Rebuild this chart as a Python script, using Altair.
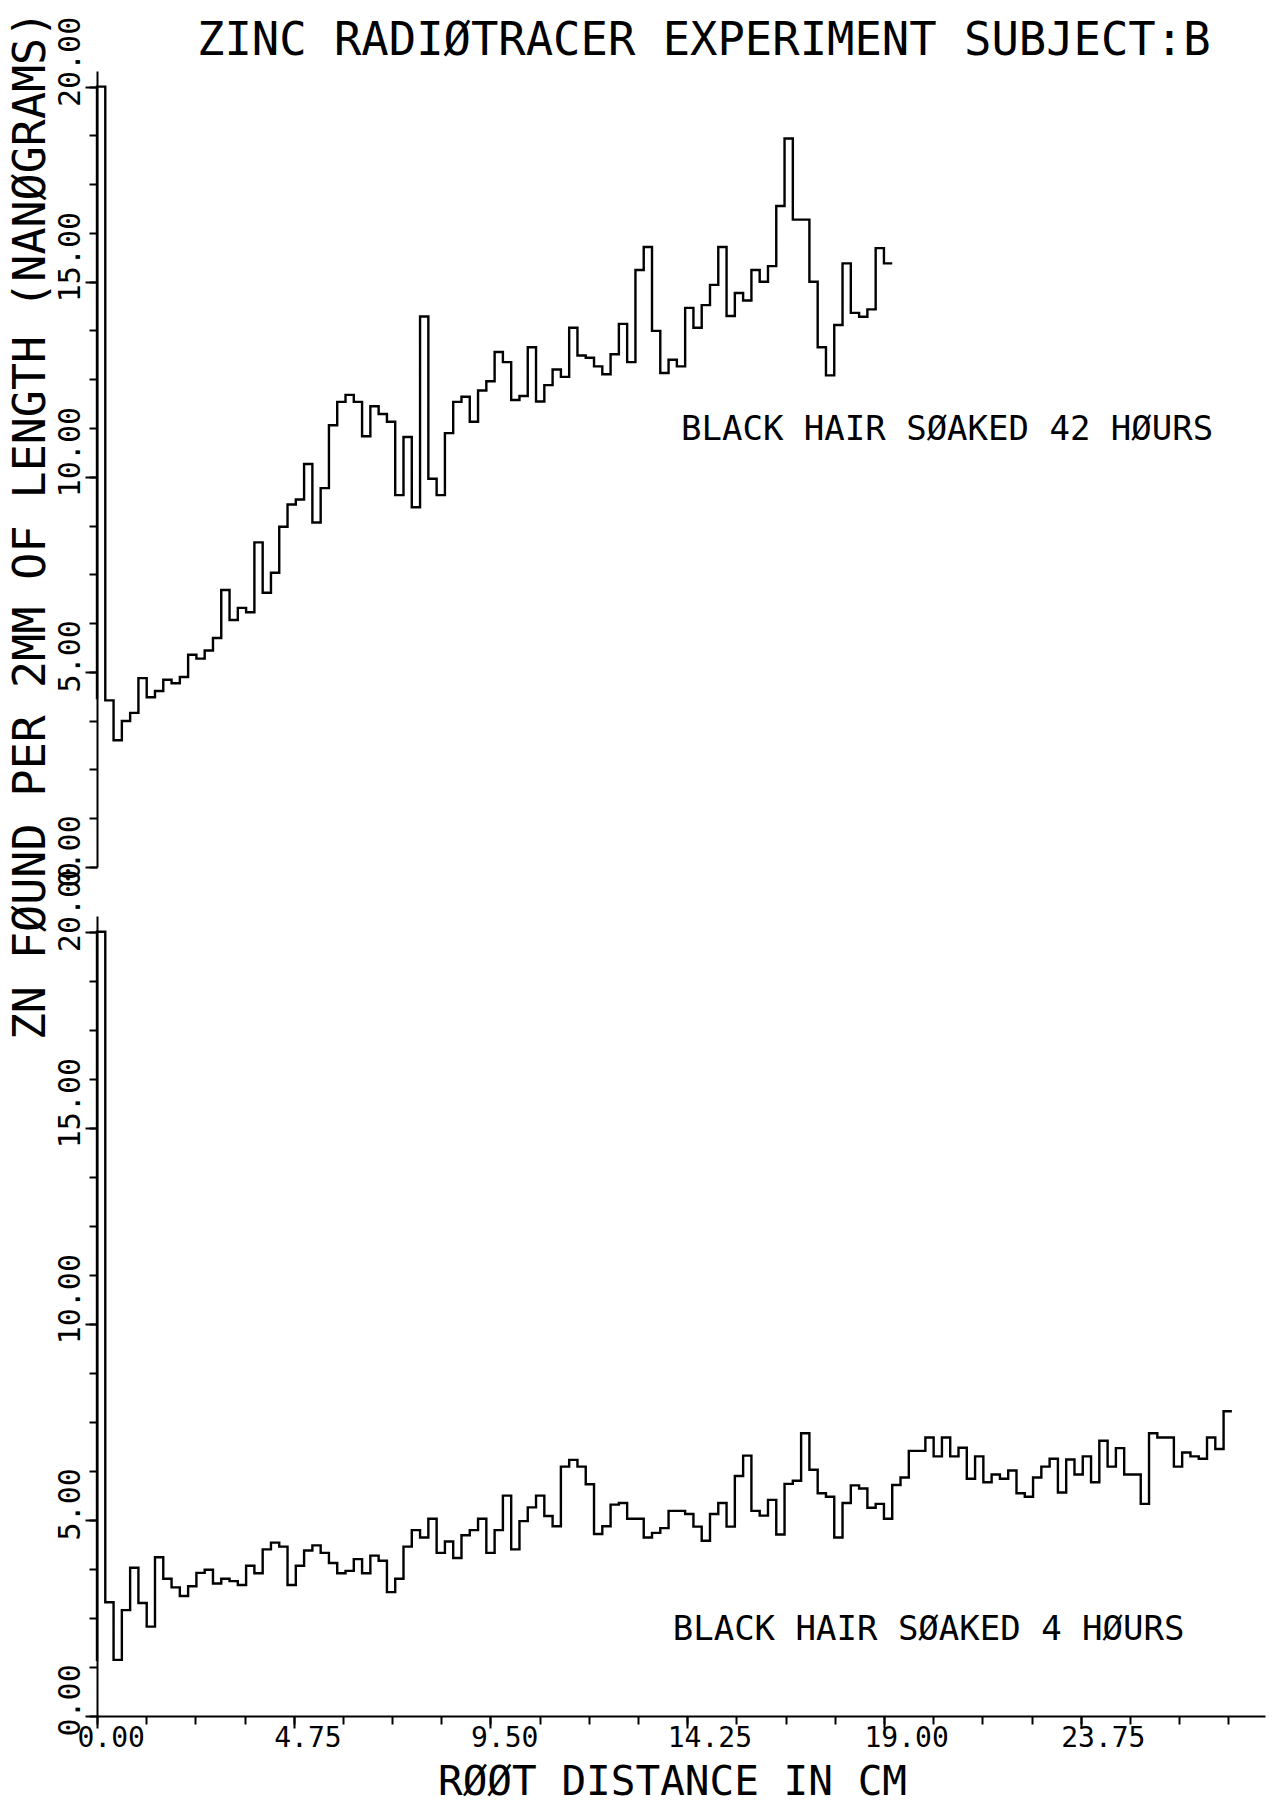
import altair as alt
import pandas as pd

# ---- measurements: zinc per 2 mm segment of hair, in nanograms ----
BIN_CM = 0.2  # each value covers 2 mm of hair

# pen start level at the root (x = 0) before the first segment
TOP_START = 4.3
BOTTOM_START = 1.4

# black hair soaked 42 hours
TOP_VALUES = [
    20.0, 4.27, 3.25, 3.74, 3.95, 4.84, 4.35, 4.51, 4.80, 4.71,
    4.87, 5.44, 5.34, 5.55, 5.87, 7.10, 6.33, 6.64, 6.53, 8.32,
    7.03, 7.54, 8.72, 9.29, 9.42, 10.33, 8.83, 9.71, 11.32, 11.92,
    12.10, 11.92, 11.04, 11.81, 11.61, 11.41, 9.53, 11.02, 9.22, 14.11,
    9.95, 9.53, 11.12, 11.92, 12.05, 11.41, 12.21, 12.45, 13.20, 12.94,
    11.97, 12.07, 13.32, 11.93, 12.35, 12.75, 12.56, 13.82, 13.11, 13.05,
    12.83, 12.63, 13.14, 13.92, 12.94, 15.30, 15.89, 13.74, 12.66, 13.00,
    12.83, 14.33, 13.82, 14.40, 14.92, 15.89, 14.12, 14.71, 14.52, 15.30,
    15.00, 15.40, 16.94, 18.67, 16.59, 16.59, 15.00, 13.32, 12.60, 13.89,
    15.47, 14.20, 14.10, 14.29, 15.86, 15.47,
]

# black hair soaked 4 hours
BOTTOM_VALUES = [
    20.0, 2.90, 1.43, 2.70, 3.78, 2.88, 2.28, 4.05, 3.50, 3.28,
    3.06, 3.31, 3.65, 3.73, 3.38, 3.50, 3.44, 3.34, 3.83, 3.64,
    4.25, 4.42, 4.32, 3.34, 3.83, 4.22, 4.35, 4.16, 3.90, 3.64,
    3.70, 4.00, 3.64, 4.09, 3.96, 3.16, 3.50, 4.32, 4.74, 4.55,
    5.03, 4.16, 4.45, 4.03, 4.61, 4.74, 5.03, 4.16, 4.74, 5.62,
    4.25, 4.97, 5.32, 5.62, 5.10, 4.84, 6.36, 6.53, 6.36, 5.91,
    4.64, 4.84, 5.39, 5.43, 5.03, 5.03, 4.55, 4.67, 4.79, 5.23,
    5.23, 5.15, 4.83, 4.47, 5.15, 5.43, 4.83, 6.12, 6.64, 5.23,
    5.11, 5.51, 4.63, 5.92, 6.00, 7.21, 6.28, 5.68, 5.59, 4.55,
    5.43, 5.88, 5.80, 5.31, 5.41, 5.03, 5.89, 6.08, 6.76, 6.76,
    7.10, 6.62, 7.10, 6.62, 6.84, 6.05, 6.62, 5.96, 6.16, 6.05,
    6.26, 5.68, 5.59, 6.08, 6.36, 6.56, 5.70, 6.54, 6.16, 6.62,
    5.96, 7.02, 6.36, 6.83, 6.16, 6.16, 5.41, 7.21, 7.10, 7.10,
    6.36, 6.72, 6.62, 6.56, 7.10, 6.81, 7.77,
]

# ---- axis ticks ----
X_MAJOR = [0.0, 4.75, 9.5, 14.25, 19.0, 23.75]
X_MINOR = [0.0, 1.1875, 2.375, 3.5625, 4.75, 5.9375, 7.125, 8.3125,
           9.5, 10.6875, 11.875, 13.0625, 14.25, 15.4375, 16.625, 17.8125,
           19.0, 20.1875, 21.375, 22.5625, 23.75, 24.9375, 26.125, 27.3125]
Y_MAJOR = [0.0, 5.0, 10.0, 15.0, 20.0]
Y_MINOR = [0.0, 1.25, 2.5, 3.75, 5.0, 6.25, 7.5, 8.75, 10.0, 11.25,
           12.5, 13.75, 15.0, 16.25, 17.5, 18.75, 20.0]

# ---- texts ----
TITLE = "ZINC RADIØTRACER EXPERIMENT SUBJECT:B"
Y_TITLE = "ZN FØUND PER 2MM OF LENGTH (NANØGRAMS)"
X_TITLE = "RØØT DISTANCE IN CM"
TOP_NOTE = "BLACK HAIR SØAKED 42 HØURS"
BOTTOM_NOTE = "BLACK HAIR SØAKED 4 HØURS"
TOP_NOTE_POS = (14.1, 10.95)
BOTTOM_NOTE_POS = (13.9, 1.95)

FONT = "DejaVu Sans Mono"
X_MAX = 28.2
Y_MAX = 20.4
PLOT_W = 1168
TOP_H = 796
BOTTOM_H = 800


def step_frame(start, values):
    rows = [{"i": 0, "x": 0.0, "v": start}]
    for k, v in enumerate(values):
        rows.append({"i": k + 1, "x": round(k * BIN_CM, 4), "v": v})
    rows.append({"i": len(values) + 1, "x": round(len(values) * BIN_CM, 4), "v": values[-1]})
    return pd.DataFrame(rows)


x_scale = alt.Scale(domain=[0, X_MAX], nice=False, zero=False)
y_scale = alt.Scale(domain=[0, Y_MAX], nice=False, zero=False)

fmt = "format(datum.value, '.2f')"

y_minor_axis = alt.Axis(
    orient="left", values=Y_MINOR, labels=False, title=None, grid=False,
    tickSize=8, tickWidth=2, tickColor="black",
    domain=True, domainColor="black", domainWidth=2,
)


def y_major_axis(with_title):
    if with_title:
        extra = dict(
            title=Y_TITLE, titleFont=FONT, titleFontSize=45, titleFontWeight="normal",
            titleColor="black", titleAngle=270, titleX=-53, titleY=454,
            titleAlign="center", titleBaseline="alphabetic",
        )
    else:
        extra = dict(title=None)
    return alt.Axis(
        orient="left", values=Y_MAJOR, grid=False, domain=False,
        tickSize=12, tickWidth=2, tickColor="black",
        labelExpr=fmt, labelFont=FONT, labelFontSize=30, labelColor="black",
        labelAngle=270, labelAlign="left", labelBaseline="alphabetic",
        labelPadding=6, labelOffset=20, labelOverlap=False, labelFlush=False,
        **extra,
    )


x_minor_axis = alt.Axis(
    orient="bottom", values=X_MINOR, labels=False, title=None, grid=False,
    tickSize=8, tickWidth=2, tickColor="black",
    domain=True, domainColor="black", domainWidth=2,
)

x_major_axis = alt.Axis(
    orient="bottom", values=X_MAJOR, grid=False, domain=False,
    tickSize=12, tickWidth=2, tickColor="black",
    labelExpr=fmt, labelFont=FONT, labelFontSize=28, labelColor="black",
    labelAlign="left", labelBaseline="alphabetic", labelPadding=18,
    labelOffset=-20, labelOverlap=False, labelFlush=False,
    title=X_TITLE, titleFont=FONT, titleFontSize=41, titleFontWeight="normal",
    titleColor="black", titleX=575, titleY=78, titleAlign="center",
    titleBaseline="alphabetic",
)


def step_line(df, x_axis):
    return alt.Chart(df).mark_line(
        interpolate="step-after", color="black", strokeWidth=2.4
    ).encode(
        x=alt.X("x:Q", scale=x_scale, axis=x_axis),
        y=alt.Y("v:Q", scale=y_scale, axis=y_minor_axis),
        order=alt.Order("i:Q"),
    )


def note(text, pos, x_axis, y_axis):
    df = pd.DataFrame({"x": [pos[0]], "v": [pos[1]], "t": [text]})
    return alt.Chart(df).mark_text(
        font=FONT, fontSize=34, align="left", baseline="alphabetic", color="black"
    ).encode(
        x=alt.X("x:Q", scale=x_scale, axis=x_axis),
        y=alt.Y("v:Q", scale=y_scale, axis=y_axis),
        text="t:N",
    )


title_layer = alt.Chart(pd.DataFrame({"t": [TITLE]})).mark_text(
    font=FONT, fontSize=45.5, align="left", baseline="alphabetic", color="black"
).encode(x=alt.value(100), y=alt.value(-16), text="t:N")

top = alt.layer(
    step_line(step_frame(TOP_START, TOP_VALUES), None),
    note(TOP_NOTE, TOP_NOTE_POS, None, y_major_axis(True)),
    title_layer,
).resolve_axis(x="independent", y="independent").properties(width=PLOT_W, height=TOP_H)

bottom = alt.layer(
    step_line(step_frame(BOTTOM_START, BOTTOM_VALUES), x_minor_axis),
    note(BOTTOM_NOTE, BOTTOM_NOTE_POS, x_major_axis, y_major_axis(False)),
).resolve_axis(x="independent", y="independent").properties(width=PLOT_W, height=BOTTOM_H)

chart = alt.vconcat(top, bottom, spacing=49, bounds="flush").properties(
    padding={"left": 7, "top": 10, "right": 4, "bottom": 3},
    background="white",
).configure_view(stroke=None)

chart.save("out.html", embed_options={"renderer": "svg", "actions": False})
